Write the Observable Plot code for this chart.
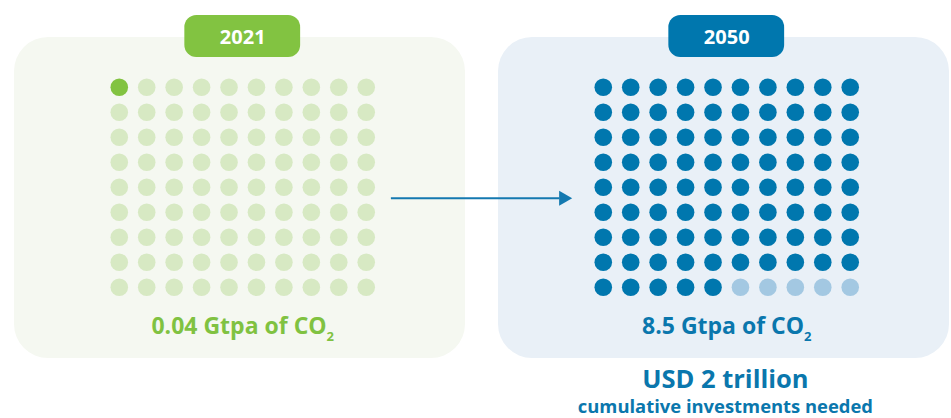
<!DOCTYPE html>
<html>
<head>
<meta charset="utf-8">
<script src="https://cdn.jsdelivr.net/npm/d3@7"></script>
<script src="https://cdn.jsdelivr.net/npm/@observablehq/plot@0.6"></script>
<style>
  html, body { margin: 0; padding: 0; background: #ffffff; }
  #chart svg { display: block; }
</style>
</head>
<body>
<div id="chart"></div>
<script>
// ---- data ----
const years = ["2021", "2050"];
const capturedGtpa = [0.04, 8.5];
const filledDots = [1, 85];          // dots filled out of 90
const gridCols = 10;
const gridRows = 9;
const valueLabels = ["0.04 Gtpa of CO2", "8.5 Gtpa of CO2"];
const investmentLines = ["USD 2 trillion", "cumulative investments needed"];

// ---- styles ----
const palette = {
  "2021": {panel: "#f5f8f1", main: "#82c341", light: "#d7e9c3", text: "#80c241"},
  "2050": {panel: "#e9f0f7", main: "#0077ae", light: "#a3c8e2", text: "#0a77ad"}
};
const arrowColor = "#1479b0";
const step = 27.5;     // px between dot columns

const panels = years.map((year, k) => ({year, value: capturedGtpa[k], label: valueLabels[k]}));
const dots = years.flatMap((year, k) =>
  d3.range(gridCols * gridRows).map(i => ({
    year,
    col: i % gridCols,
    row: Math.floor(i / gridCols),
    on: i < filledDots[k]
  }))
);
const investment = investmentLines.map((text, i) => ({year: "2050", text, i}));
const arrow = [{year: "2050"}];
const mid = (gridCols - 1) / 2;

const chart = Plot.plot({
  width: 951,
  height: 418,
  marginTop: 37,
  marginBottom: 60,
  marginLeft: 13,
  marginRight: 1,
  style: {fontFamily: "'Open Sans', sans-serif", background: "#ffffff", overflow: "visible"},
  fx: {domain: years, paddingInner: 0.068, paddingOuter: 0, axis: null, label: null},
  x: {domain: [-105 / step, 347 / step], axis: null},
  y: {domain: [-1.99, 10.85], reverse: true, axis: null},
  color: {type: "identity"},
  marks: [
    // panels
    Plot.rect(panels, {fx: "year", fill: d => palette[d.year].panel, rx: 34}),
    // year label boxes
    Plot.rect(panels, {
      fx: "year",
      x1: () => mid - 2.11, x2: () => mid + 2.11,
      y1: () => -2.87, y2: () => -1.19,
      fill: d => palette[d.year].main, rx: 12
    }),
    Plot.text(panels, {
      fx: "year", x: () => mid, y: () => -1.99, text: "year",
      fill: "white", fontSize: 20, fontWeight: 700
    }),
    // dot grids
    Plot.dot(dots, {
      fx: "year", x: "col", y: "row", r: 8.8,
      fill: d => d.on ? palette[d.year].main : palette[d.year].light
    }),
    // value labels
    Plot.text(panels, {
      fx: "year", x: () => mid, y: () => 9.59, text: "label",
      fill: d => palette[d.year].text, fontSize: 23, fontWeight: 700
    }),
    // arrow between panels
    Plot.link(arrow, {
      fx: "year",
      x1: () => -7.74, x2: () => -1.6, y1: () => 4.44, y2: () => 4.44,
      stroke: arrowColor, strokeWidth: 2
    }),
    Plot.dot(arrow, {
      fx: "year", x: () => -1.45, y: () => 4.44,
      symbol: "triangle", r: 5.6, rotate: 90, fill: arrowColor
    }),
    // investment note
    Plot.text(investment, {
      fx: "year", x: () => mid - 0.05, y: d => d.i === 0 ? 11.69 : 12.79, text: "text",
      fill: "#0a77ad", fontWeight: 700,
      fontSize: d => d.i === 0 ? 25.5 : 18.4
    })
  ]
});

// subscript the 2 in CO2
d3.select(chart).selectAll("text").each(function () {
  const el = d3.select(this);
  if (el.selectAll("tspan").size() > 0) return;
  const t = el.text();
  if (t.endsWith("CO2")) {
    el.text(t.slice(0, -1));
    el.append("tspan").attr("dy", 7).attr("font-size", 13).text("2");
  }
});

document.getElementById("chart").appendChild(chart);
</script>
</body>
</html>
